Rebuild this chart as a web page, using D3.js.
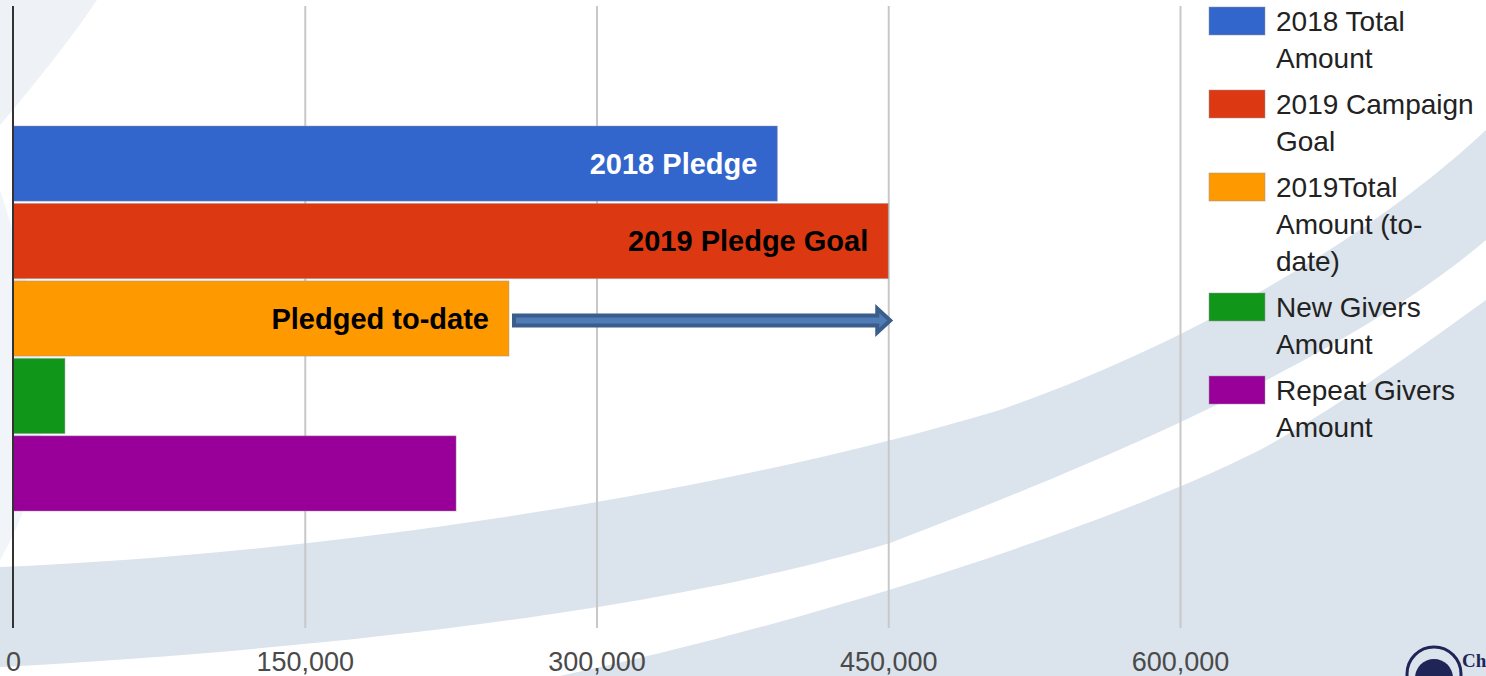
<!DOCTYPE html>
<meta charset="utf-8">
<script src="https://d3js.org/d3.v7.min.js"></script>
<style>
  body { margin: 0; background: #fff; }
  svg { display: block; }
</style>
<body>
<div id="my_dataviz"></div>
<script>

  // data
  var series = ["2018 Total Amount", "2019 Campaign Goal", "2019Total Amount (to-date)", "New Givers Amount", "Repeat Givers Amount"];
  var values = [393000, 450000, 255000, 26700, 227800];
  var colors = ["#3366cc", "#dc3912", "#ff9900", "#109618", "#990099"];
  var legendLines = [["2018 Total", "Amount"], ["2019 Campaign", "Goal"], ["2019Total", "Amount (to-", "date)"], ["New Givers", "Amount"], ["Repeat Givers", "Amount"]];
  var tickValues = [0, 150000, 300000, 450000, 600000];
  // annotations written on the bars
  var barNotes = ["2018 Pledge", "2019 Pledge Goal", "Pledged to-date", "", ""];
  var noteColors = ["#fff", "#000", "#000", "#000", "#000"];

  var W = 1486, H = 676;
  var top_ = 6, bottom_ = 628;

  var svg = d3.select("#my_dataviz")
    .append("svg")
    .attr("width", W)
    .attr("height", H);

  // slide background swooshes
  var bg = svg.append("g");
  bg.append("path")
    .attr("d", "M0,0 L97,0 C70,40 30,90 0,125 Z")
    .attr("fill", "#eef2f6");
  bg.append("path")
    .attr("d", "M0,190 C35,300 75,430 0,560 Z")
    .attr("fill", "#f1f4f8");
  bg.append("path")
    .attr("d", "M0,567 C300,555 700,500 1000,410 C1200,340 1380,230 1486,130 L1486,240 C1380,330 1200,425 890,543 C700,600 400,645 0,667 Z")
    .attr("fill", "#dbe3ec");
  bg.append("path")
    .attr("d", "M560,676 C800,625 1100,530 1260,450 C1350,400 1430,340 1486,300 L1486,676 Z")
    .attr("fill", "#dbe3ec");

  // scales
  var x = d3.scaleLinear()
    .domain([0, 600000])
    .range([13, 1180]);

  var y = d3.scaleBand()
    .domain(series)
    .range([126, 511])
    .paddingInner(0.03);

  // gridlines
  svg.append("g")
    .attr("transform", "translate(0," + bottom_ + ")")
    .call(d3.axisBottom(x).tickValues(tickValues.slice(1)).tickSize(-(bottom_ - top_)).tickFormat(""))
    .call(function (g) { g.select(".domain").remove(); })
    .selectAll("line")
    .attr("stroke", "#c8c8c8")
    .attr("stroke-width", 2);

  // tick labels
  svg.append("g")
    .attr("transform", "translate(0," + bottom_ + ")")
    .call(d3.axisBottom(x).tickValues(tickValues).tickSize(0).tickPadding(24).tickFormat(d3.format(",")))
    .call(function (g) { g.select(".domain").remove(); })
    .selectAll("text")
    .attr("fill", "#4a4a4a")
    .style("font-family", "Liberation Sans, Arial, sans-serif")
    .style("font-size", "27px");

  // bars
  svg.append("g")
    .selectAll("rect")
    .data(series)
    .enter()
    .append("rect")
    .attr("x", x(0))
    .attr("y", function (d) { return y(d); })
    .attr("width", function (d, i) { return x(values[i]) - x(0); })
    .attr("height", y.bandwidth())
    .attr("fill", function (d, i) { return colors[i]; })
    .attr("stroke", "#9a9a9a")
    .attr("stroke-opacity", 0.45)
    .attr("stroke-width", 1);

  // zero line
  svg.append("line")
    .attr("x1", x(0)).attr("x2", x(0))
    .attr("y1", top_).attr("y2", bottom_)
    .attr("stroke", "#333")
    .attr("stroke-width", 2);

  // labels inside bars
  svg.append("g")
    .selectAll("text")
    .data(series)
    .enter()
    .append("text")
    .attr("x", function (d, i) { return x(values[i]) - 20; })
    .attr("y", function (d) { return y(d) + y.bandwidth() / 2; })
    .attr("dy", "0.36em")
    .attr("text-anchor", "end")
    .attr("fill", function (d, i) { return noteColors[i]; })
    .style("font-family", "Liberation Sans, Arial, sans-serif")
    .style("font-weight", "bold")
    .style("font-size", "29px")
    .text(function (d, i) { return barNotes[i]; });

  // arrow from pledged to-date to the goal
  var ay = y(series[2]) + y.bandwidth() / 2 + 2;
  var ax0 = x(values[2]) + 5, ax1 = x(values[1]) + 2;
  svg.append("path")
    .attr("d", "M" + ax0 + "," + (ay - 5) + " L" + (ax1 - 13) + "," + (ay - 5) + " L" + (ax1 - 13) + "," + (ay - 12) +
      " L" + ax1 + "," + ay + " L" + (ax1 - 13) + "," + (ay + 12) + " L" + (ax1 - 13) + "," + (ay + 5) +
      " L" + ax0 + "," + (ay + 5) + " Z")
    .attr("fill", "#4f7cb6")
    .attr("stroke", "#3a5d8c")
    .attr("stroke-width", 4)
    .attr("stroke-linejoin", "miter");

  // legend
  var legend = svg.append("g");
  var ly = 7;
  series.forEach(function (s, i) {
    legend.append("rect")
      .attr("x", 1209)
      .attr("y", ly)
      .attr("width", 56)
      .attr("height", 28)
      .attr("fill", colors[i])
      .attr("stroke", "#999")
      .attr("stroke-opacity", 0.5);
    var t = legend.append("text")
      .attr("x", 1276)
      .attr("y", ly + 24)
      .attr("fill", "#222")
      .style("font-family", "Liberation Sans, Arial, sans-serif")
      .style("font-size", "28px");
    legendLines[i].forEach(function (line, j) {
      t.append("tspan")
        .attr("x", 1276)
        .attr("dy", j == 0 ? 0 : 37)
        .text(line);
    });
    ly += legendLines[i].length * 37 + 9;
  });

  // logo corner
  var logo = svg.append("g").attr("fill", "#1f2557");
  logo.append("circle").attr("cx", 1434).attr("cy", 674).attr("r", 27)
    .attr("fill", "none").attr("stroke", "#1f2557").attr("stroke-width", 3);
  logo.append("circle").attr("cx", 1434).attr("cy", 678).attr("r", 19);
  logo.append("text").attr("x", 1462).attr("y", 667)
    .style("font-family", "Liberation Serif, serif")
    .style("font-weight", "bold")
    .style("font-size", "19px")
    .text("Ch");

</script>
</body>
